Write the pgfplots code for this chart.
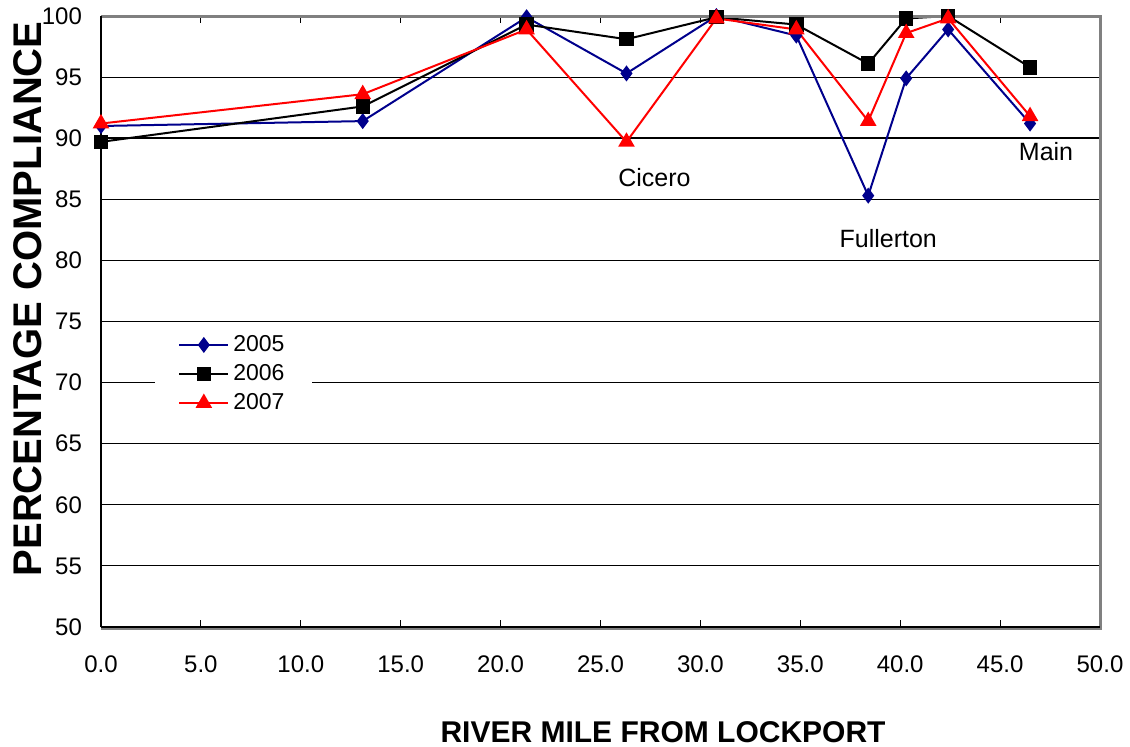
\documentclass[border=0pt]{standalone}
\usepackage{pgfplots}
\pgfplotsset{compat=1.18}
\usepackage{fontspec}
\setmainfont{Liberation Sans}
\definecolor{navyb}{RGB}{0,0,140}
\definecolor{grayb}{RGB}{128,128,128}
\begin{document}
\begin{tikzpicture}
\useasboundingbox (-50.5pt,-59.5pt) rectangle (514.5pt,313.5pt);
\begin{axis}[
  scale only axis,
  width=499.5pt, height=305.5pt,
  xmin=0, xmax=50, ymin=50, ymax=100,
  xtick={0,5,...,50}, ytick={50,55,...,100},
  /pgf/number format/assume math mode=true,
  ticklabel style={font=\fontsize{12}{14}\selectfont},
  xticklabel style={/pgf/number format/fixed, /pgf/number format/fixed zerofill, /pgf/number format/precision=1, yshift=-11pt},
  yticklabel style={xshift=-6pt},
  xtick align=inside,
  major tick length=3.5pt,
  ytick style={draw=none},
  xtick style={black, line width=0.6pt},
  ymajorgrids,
  grid style={black, line width=0.5pt},
  extra y ticks={90},
  extra y tick labels={},
  extra y tick style={grid style={black, line width=1.1pt}},
  axis line style={draw=none},
  clip=false,
  xlabel={RIVER MILE FROM LOCKPORT},
  ylabel={PERCENTAGE COMPLIANCE},
  xlabel style={at={(axis description cs:0.5626,-0.1720)}, anchor=center, font=\fontsize{15}{18}\selectfont\bfseries},
  ylabel style={at={(axis description cs:-0.0731,0.537)}, anchor=center, font=\fontsize{20}{24}\selectfont\bfseries},
  legend style={at={(axis description cs:0.054,0.4975)}, anchor=north west, draw=none, fill=white,
    font=\fontsize{11.5}{13.5}\selectfont, row sep=1pt, inner xsep=11.5pt, inner ysep=4pt},
  legend cell align=left,
  legend image code/.code={\draw[mark repeat=2,mark phase=2,#1] plot coordinates {(0pt,0pt)(12.25pt,0pt)(24.5pt,0pt)};},
]
\addplot[navyb, line width=1pt, mark=diamond*, mark size=3.2pt, mark options={solid}] coordinates {
(0.0,91.0) (13.1,91.4) (21.3,99.9) (26.3,95.3) (30.8,100.0) (34.8,98.4) (38.4,85.3) (40.3,94.9) (42.4,98.9) (46.5,91.2)};
\addlegendentry{2005}
\addplot[black, line width=1pt, mark=square*, mark size=3.1pt] coordinates {
(0.0,89.7) (13.1,92.6) (21.3,99.3) (26.3,98.1) (30.8,99.9) (34.8,99.3) (38.4,96.1) (40.3,99.8) (42.4,100.0) (46.5,95.8)};
\addlegendentry{2006}
\addplot[red, line width=1pt, mark=triangle*, mark size=3.8pt] coordinates {
(0.0,91.2) (13.1,93.6) (21.3,98.9) (26.3,89.7) (30.8,99.8) (34.8,98.9) (38.4,91.4) (40.3,98.6) (42.4,99.8) (46.5,91.8)};
\addlegendentry{2007}
\node[font=\fontsize{12.5}{15}\selectfont] at (axis cs:27.7,86.8) {Cicero};
\node[font=\fontsize{12.5}{15}\selectfont] at (axis cs:39.4,81.8) {Fullerton};
\node[font=\fontsize{12.5}{15}\selectfont] at (axis cs:47.3,88.9) {Main};
\draw[grayb, line width=1.5pt] (axis description cs:0,1) -- (axis description cs:1,1) -- ([yshift=-0.75pt]axis description cs:1,0) -- ([yshift=-0.75pt]axis description cs:0,0);
\draw[black, line width=0.8pt] (axis description cs:0,0) -- (axis description cs:1,0);
\draw[black, line width=1.1pt] (axis description cs:0,0) -- (axis description cs:0,1);
\end{axis}
\end{tikzpicture}
\end{document}
